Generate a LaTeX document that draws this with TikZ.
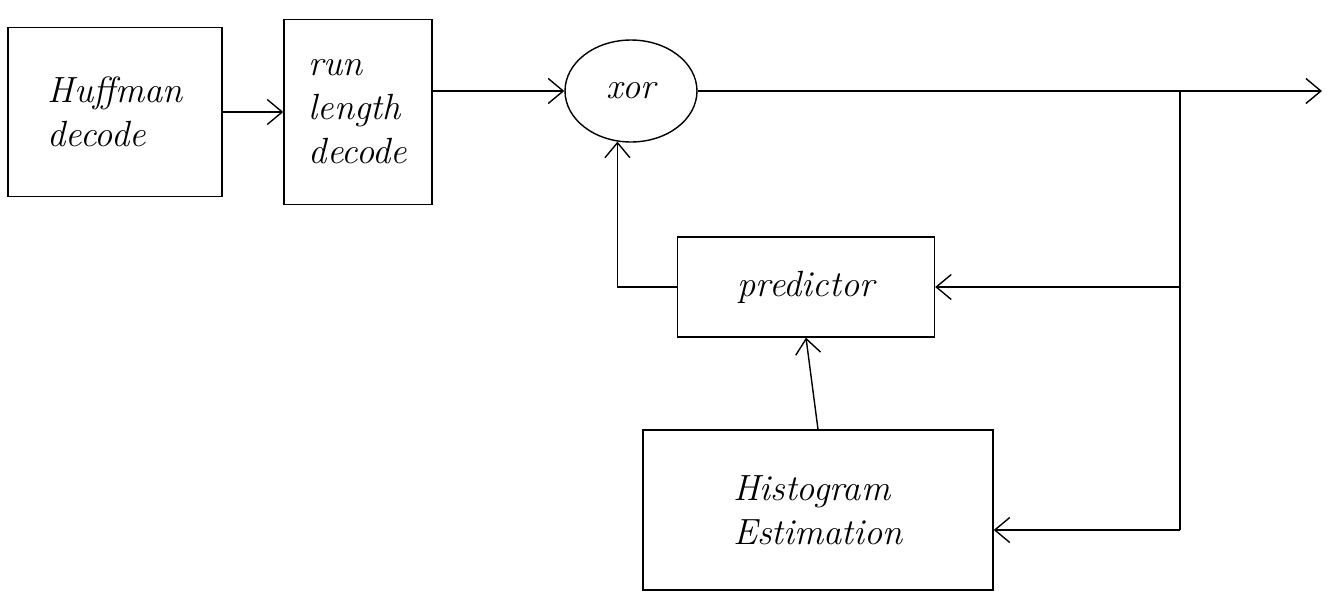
\documentclass[tikz,border=0pt]{standalone}
\usetikzlibrary{arrows,arrows.meta,shapes.geometric}
\begin{document}
\begin{tikzpicture}[x=0.02cm,y=-0.02cm,>={Straight Barb[length=3mm,width=5mm]}]
\tikzstyle{blk}=[rectangle, draw=black, thick, align=left, font=\huge\itshape]
\tikzstyle{op}=[ellipse, draw=black, thick, minimum width=2.64cm, minimum height=2.04cm, font=\huge\itshape]
\tikzstyle{wire}=[thick]
\useasboundingbox (0,0) rectangle (1333,599);
\node (huff) [blk, minimum width=4.28cm, minimum height=3.38cm] at (115,112) {Huffman\\decode};
\node (run) [blk, minimum width=2.96cm, minimum height=3.7cm] at (358,112) {run\\length\\decode};
\node (xor) [op] at (631,91) {xor};
\node (pred) [blk, minimum width=5.14cm, minimum height=2cm] at (806,287) {predictor};
\node (hist) [blk, minimum width=7cm, minimum height=3.2cm] at (818,510) {Histogram\\Estimation};
\coordinate (out) at (1322,91);
\coordinate (br) at (1180,91);
\coordinate (brb) at (1180,530);
\draw[wire,->] (huff.east) -- (run.west);
\draw[wire,->] (run.east |- xor.west) -- (xor.west);
\draw[wire,->] (xor.east) -- (out);
\draw[wire] (br) -- (brb);
\draw[wire,->] (br |- pred.east) -- (pred.east);
\draw[wire,->] (brb) -- (hist.east |- brb);
\draw[wire,->] (pred.west) -| (xor.255);
\draw[wire,->] (hist.north) -- (pred.south);
\end{tikzpicture}
\end{document}
